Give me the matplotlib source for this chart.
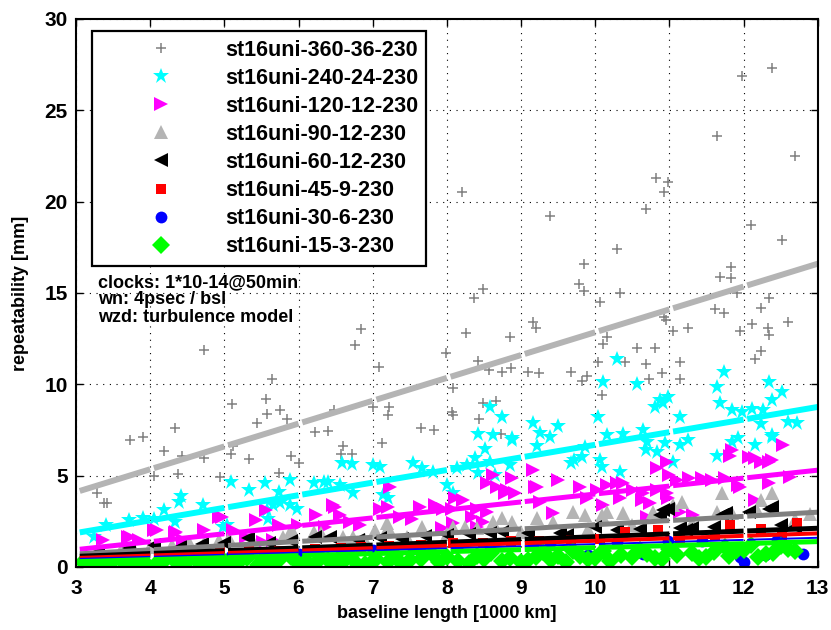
import matplotlib
matplotlib.use("agg")
import matplotlib.pyplot as plt
import numpy as np

plt.rcParams['font.family'] = ['Liberation Sans', 'DejaVu Sans']

# --- data ----------------------------------------------------------------
labels = ["st16uni-360-36-230", "st16uni-240-24-230", "st16uni-120-12-230",
          "st16uni-90-12-230", "st16uni-60-12-230", "st16uni-45-9-230",
          "st16uni-30-6-230", "st16uni-15-3-230"]

x360 = [11.98, 12.39, 11.64, 12.70, 10.82, 10.98, 10.93, 8.20, 10.68, 9.39,
        12.10, 12.52, 10.29, 9.85, 11.83, 11.68, 11.83, 9.78, 9.85, 10.34,
        10.06, 8.49, 8.36, 11.91, 12.35, 12.23, 11.62, 11.73, 10.93, 10.96,
        9.16, 11.25, 12.12, 12.33, 12.60,
        4.72, 6.76, 6.84, 7.08, 7.99, 5.64, 5.56, 8.08,
        3.28, 3.38, 3.42, 3.73, 3.90, 4.33, 4.19, 4.37, 4.43, 4.05,
        4.72, 4.94, 5.10, 5.09, 5.12, 5.33, 5.57, 5.44, 5.75, 5.84,
        5.73, 5.90, 6.00, 6.22, 6.40, 6.48, 6.60, 6.57, 6.72, 7.00,
        7.22, 7.20, 7.12, 7.65, 7.82,
        8.26, 8.85, 9.20, 8.42, 8.57, 8.74, 8.86, 9.09, 9.24, 9.68,
        9.82, 9.89, 10.16, 10.10, 10.04, 10.09, 10.40, 10.57, 10.80, 10.69,
        10.72, 10.90, 11.05, 11.14, 11.14, 11.95, 12.35, 12.15, 12.23, 8.07,
        8.08, 8.49, 8.66, 8.43, 8.73]
y360 = [26.9, 27.3, 23.6, 22.5, 21.3, 21.1, 20.5, 20.5, 19.6, 19.2,
        18.7, 17.9, 17.4, 16.6, 16.4, 15.9, 15.8, 15.5, 15.1, 15.0,
        14.5, 15.2, 14.7, 15.0, 14.7, 14.2, 14.1, 13.9, 13.7, 13.5,
        13.4, 13.1, 13.3, 13.1, 13.4,
        11.9, 12.15, 13.0, 10.95, 11.7, 10.3, 9.2, 9.8,
        4.05, 3.5, 3.5, 6.95, 7.1, 7.6, 6.35, 5.1, 6.1, 5.0,
        5.95, 4.9, 8.9, 6.2, 6.6, 5.9, 8.4, 7.9, 8.6, 8.1,
        5.15, 6.1, 5.7, 7.4, 7.45, 8.6, 6.6, 6.2, 6.2, 8.76,
        8.76, 8.3, 6.8, 7.6, 7.5,
        12.8, 12.6, 13.1, 11.3, 10.8, 10.7, 10.9, 10.7, 10.6, 10.7,
        10.2, 10.45, 12.6, 12.2, 11.2, 9.4, 11.2, 12.0, 12.0, 11.1,
        10.3, 10.6, 12.9, 11.2, 10.3, 12.9, 12.7, 11.4, 11.8, 8.5,
        8.3, 9.0, 9.1, 8.1, 7.3]

x240 = [3.24, 3.40, 3.71, 3.90, 4.05, 4.19, 4.34, 4.41, 4.39, 4.71,
        4.98, 5.09, 5.33, 5.55, 5.74, 5.88, 5.59, 5.75, 5.98, 6.21,
        6.34, 5.57, 5.65, 5.88, 5.03,
        6.40, 6.58, 6.72, 7.00, 7.10, 7.54, 7.66, 7.81, 6.73, 6.56,
        7.14, 7.20, 8.00, 8.08, 8.13, 8.27, 8.38, 8.51, 8.58, 8.85,
        8.42, 8.65, 9.21, 8.88,
        10.29, 10.10, 10.57, 10.87, 10.98, 10.91, 10.80, 10.04, 11.73, 11.64,
        11.68, 11.85, 11.98, 12.35, 12.52, 12.39, 12.12, 12.26, 12.24, 12.60,
        12.72, 12.39, 11.14, 10.16, 10.37, 10.64, 10.69, 10.83, 10.94, 11.14,
        11.25, 11.92, 11.85, 12.15, 12.38, 11.64, 10.06, 10.09, 10.33, 11.05,
        8.42, 8.62, 8.88, 8.74, 8.58, 9.16, 9.25, 9.50, 9.39, 9.68,
        9.82, 9.86, 10.70, 9.72]
y240 = [1.65, 2.3, 2.57, 2.7, 2.65, 3.1, 2.45, 3.9, 3.55, 3.4,
        2.2, 4.65, 4.2, 4.6, 4.1, 4.75, 2.6, 3.5, 3.2, 4.6,
        4.65, 3.1, 3.4, 3.4, 2.3,
        4.65, 5.7, 5.65, 5.6, 5.5, 5.7, 5.4, 5.2, 4.05, 4.5,
        3.95, 3.8, 4.5, 4.05, 5.4, 5.6, 5.95, 6.45, 5.75, 5.6,
        5.15, 5.05, 6.6, 6.95,
        11.4, 10.1, 10.0, 9.15, 9.3, 9.0, 8.75, 8.2, 10.7, 9.85,
        9.0, 8.6, 8.5, 10.1, 9.6, 9.15, 8.65, 8.6, 7.8, 7.95,
        7.9, 7.2, 8.2, 7.2, 7.3, 7.5, 6.4, 6.3, 6.8, 6.7,
        6.95, 7.05, 6.85, 6.7, 7.1, 6.1, 5.85, 5.5, 5.2, 5.75,
        7.3, 7.2, 7.05, 8.2, 8.75, 7.9, 7.35, 7.7, 7.1, 5.7,
        6.0, 6.55, 6.85, 5.85]

x120 = [3.36, 3.70, 3.73, 3.85, 4.05, 4.09, 4.35, 4.33, 4.44, 4.72,
        4.93, 4.97, 5.12, 5.29, 5.42, 5.52, 5.56, 5.65, 5.74, 5.99,
        6.23, 6.46,
        6.49, 6.56, 6.69, 6.83, 6.36, 7.23, 7.10, 7.20, 7.37, 7.53,
        7.64, 7.84, 7.95, 8.07, 8.11, 8.22, 8.34, 8.40, 8.54, 8.54,
        8.67, 8.81, 8.88, 8.62, 9.16, 9.19, 9.25, 9.43, 9.50, 8.08,
        8.40, 7.86, 7.93, 8.49, 8.78, 8.92, 9.21,
        9.79, 9.89, 10.03, 10.10, 10.29, 10.33, 10.51, 10.63, 10.74, 10.83,
        10.97, 10.97, 10.98, 10.70, 11.00, 11.10, 11.27, 11.44, 11.58, 11.75,
        11.82, 11.85, 11.92, 12.08, 12.15, 12.24, 12.35, 12.39, 12.53, 12.35,
        12.15, 11.14, 11.32, 10.83, 12.62, 11.95, 10.16, 10.37, 10.64]
y120 = [1.5, 1.65, 1.65, 1.5, 2.0, 2.0, 1.9, 1.85, 1.5, 2.0,
        2.75, 2.75, 2.0, 1.65, 2.55, 1.35, 3.1, 1.5, 2.3, 2.3,
        2.85, 3.4,
        3.3, 2.85, 2.45, 2.3, 2.2, 4.4, 3.2, 3.3, 2.75, 2.6,
        3.3, 3.4, 3.2, 3.2, 3.8, 3.65, 2.75, 3.2, 3.0, 4.6,
        4.4, 4.2, 4.85, 5.05, 5.3, 4.4, 3.55, 2.95, 4.75, 2.4,
        2.2, 3.3, 2.15, 2.45, 4.05, 4.05, 4.4,
        4.4, 3.8, 4.2, 3.4, 4.6, 3.8, 4.2, 3.65, 3.5, 4.2,
        4.05, 5.75, 3.8, 2.75, 5.05, 4.75, 4.85, 4.85, 4.75, 4.85,
        6.1, 6.4, 4.5, 6.0, 5.95, 5.75, 5.75, 5.85, 6.7, 4.6,
        3.65, 3.0, 2.85, 5.4, 4.9, 4.4, 4.5, 4.6, 4.05]

x90 = [3.3, 3.6, 4.0, 4.3, 4.52, 4.72, 4.93, 5.06, 5.79, 5.92,
       6.21, 6.30, 6.6, 6.73, 7.46, 5.88,
       7.19, 7.03, 7.66, 8.08, 8.24, 8.40, 8.62, 8.74, 8.88, 9.21,
       9.43, 7.2,
       9.70, 9.86, 10.09, 10.16, 10.37, 10.78, 11.05, 11.17, 11.64, 11.71,
       11.85, 12.24, 12.39, 12.18,
       9.0, 10.5, 12.7, 12.9, 11.3, 9.9, 8.0, 6.9, 5.4, 3.8]
y90 = [0.9, 0.95, 1.1, 1.2, 1.35, 1.3, 1.5, 1.6, 1.65, 1.9,
       1.9, 1.85, 1.65, 1.65, 1.65, 1.9,
       2.4, 2.0, 2.2, 2.2, 2.2, 2.15, 2.45, 2.7, 2.45, 2.7,
       2.45, 2.2,
       3.0, 2.85, 2.85, 3.0, 2.95, 3.0, 3.4, 3.55, 3.0, 4.05,
       2.95, 3.65, 4.05, 3.1,
       1.9, 2.3, 2.6, 2.9, 2.4, 2.1, 1.8, 1.5, 1.3, 0.9]

x60 = [3.3, 3.71, 4.05, 4.4, 4.7, 5.0, 5.32, 5.6, 5.9, 6.22,
       6.42, 6.8, 7.1, 7.4, 7.7, 8.0, 8.3, 8.58, 8.75, 9.1,
       9.52, 9.62, 10.0, 10.3, 10.6, 10.87, 10.91, 10.98, 11.14, 11.23,
       11.30, 11.6, 11.71, 11.77, 12.08, 12.35, 12.39, 12.5, 12.7]
y60 = [0.8, 1.05, 1.2, 1.1, 1.25, 1.3, 1.6, 1.3, 1.4, 1.65,
       1.65, 1.5, 1.6, 1.55, 1.7, 1.75, 1.8, 1.85, 1.9, 1.85,
       1.85, 1.75, 2.2, 2.05, 2.1, 2.85, 3.1, 3.2, 2.15, 2.0,
       2.15, 2.2, 2.85, 2.95, 3.0, 3.2, 3.3, 2.3, 2.2]

x45 = [3.28, 3.73, 4.19, 4.43, 4.94, 5.33, 5.73, 6.22, 6.57, 6.84,
       7.22, 7.65, 8.08, 8.49, 8.86, 9.24, 9.68, 10.06, 10.40, 10.85,
       11.14, 11.62, 11.82, 12.23, 12.52, 12.72]
y45 = [0.5, 0.6, 0.7, 0.75, 0.8, 0.9, 0.9, 1.0, 1.05, 1.1,
       1.15, 1.2, 1.3, 1.3, 1.4, 1.45, 1.5, 1.55, 1.9, 2.0,
       1.6, 1.7, 2.3, 2.1, 1.75, 2.4]

x30 = [3.24, 3.71, 4.19, 4.72, 5.09, 5.55, 6.00, 6.58, 7.00, 7.54,
       8.13, 8.58, 9.16, 9.39, 9.90, 10.29, 10.64, 10.98, 11.44, 11.95,
       12.00, 12.29, 12.45, 12.80]
y30 = [0.25, 0.3, 0.45, 0.5, 0.6, 0.65, 0.7, 0.9, 0.95, 1.0,
       1.1, 1.15, 1.2, 1.3, 0.65, 1.35, 0.7, 1.4, 1.45, 0.55,
       0.3, 0.65, 1.5, 0.7]

x15 = [3.1, 3.3, 3.5, 3.8, 3.95, 4.2, 4.35, 4.6, 4.75, 5.0,
       5.1, 5.3, 5.5, 5.6, 5.75, 5.9, 6.1, 6.3, 6.5, 6.7,
       6.9, 7.05, 7.3, 7.5, 7.8, 8.0, 8.15, 8.4, 8.6, 8.85,
       9.1, 9.3, 9.5, 9.7, 9.9, 10.1, 10.35, 10.6, 10.8, 11.0,
       11.3, 11.5, 11.75, 11.9, 12.1, 12.3, 12.5, 12.7,
       3.2, 3.4, 3.65, 3.9, 4.1, 4.45, 4.7, 4.9, 5.2, 5.45,
       5.7, 6.0, 6.2, 6.4, 6.6, 6.8, 7.0, 7.2, 7.4, 7.65,
       7.9, 8.3, 8.5, 8.75, 9.0, 9.2, 9.4, 9.6, 9.8, 10.0,
       10.2, 10.5, 10.7, 10.9, 11.1, 11.4, 11.6, 11.8, 12.0, 12.2,
       12.4, 12.6]
y15 = [0.3, 0.15, 0.35, 0.25, 0.15, 0.4, 0.3, 0.45, 0.25, 0.35,
       0.15, 0.5, 0.3, 0.2, 0.45, 0.55, 0.35, 0.5, 0.2, 0.6,
       0.15, 0.45, 0.65, 0.4, 0.7, 0.55, 0.35, 0.6, 0.75, 0.5,
       0.4, 0.8, 0.6, 0.85, 0.45, 0.9, 0.65, 0.95, 0.5, 1.0,
       0.75, 0.55, 1.1, 0.85, 1.2, 0.7, 1.15, 0.9,
       0.1, 0.05, 0.2, 0.05, 0.25, 0.1, 0.05, 0.2, 0.3, 0.1,
       0.25, 0.15, 0.05, 0.4, 0.3, 0.1, 0.35, 0.25, 0.15, 0.45,
       0.3, 0.2, 0.45, 0.35, 0.25, 0.55, 0.4, 0.3, 0.6, 0.5,
       0.35, 0.55, 0.7, 0.45, 0.65, 0.5, 0.8, 0.6, 0.95, 0.55,
       0.75, 1.0]

# linear fits: value at 3000 km and at 13000 km
fit_x = [3, 13]
fit_start = [4.1, 1.86, 0.95, 0.71, 0.58, 0.49, 0.44, 0.29]
fit_end = [16.6, 8.76, 5.3, 3.0, 2.12, 1.84, 1.6, 1.39]

xs = [x360, x240, x120, x90, x60, x45, x30, x15]
ys = [y360, y240, y120, y90, y60, y45, y30, y15]
markers = ['+', '*', '>', '^', '<', 's', 'o', 'D']
msizes = [7.5, 12, 10, 10, 10, 7, 8.5, 9]
colors = ['#808080', '#00ffff', '#ff00ff', '#b4b4b4', 'k', 'r', 'b', '#00ff00']
line_colors = ['#b4b4b4', '#00ffff', '#ff00ff', '#808080', 'k', 'r', 'b', '#00ff00']
line_widths = [4.3, 4.3, 3.6, 3.6, 3.6, 2.9, 1.4, 3.6]

fig = plt.figure(figsize=(8.31, 6.3), dpi=100)
ax = fig.add_axes([0.0915, 0.1, 0.8925, 0.87])

for i in range(len(labels)):
    if markers[i] == '+':
        ax.plot(xs[i], ys[i], linestyle='none', marker='+', ms=msizes[i],
                mew=1.1, color=colors[i], label=labels[i])
    else:
        ax.plot(xs[i], ys[i], linestyle='none', marker=markers[i], ms=msizes[i],
                mew=0, color=colors[i], label=labels[i])

# fit lines, drawn in pieces between whole thousands of km
for i in range(len(labels)):
    for k in range(3, 13):
        seg = np.array([k + 0.05, k + 1.0])
        ax.plot(seg, np.interp(seg, fit_x, [fit_start[i], fit_end[i]]),
                color=line_colors[i], lw=line_widths[i], solid_capstyle='butt')

ax.set_xlim(3, 13)
ax.set_ylim(0, 30)
ax.set_xticks(range(3, 14))
ax.set_yticks(range(0, 31, 5))
ax.grid(True, color='k', linestyle=(0, (1, 5)), linewidth=0.8)
ax.tick_params(direction='in', length=5, width=1, top=True, right=True,
               labelsize=15)
ax.tick_params(axis='x', pad=9)
ax.tick_params(axis='y', pad=6)
for lab in ax.get_xticklabels() + ax.get_yticklabels():
    lab.set_fontweight('bold')
for s in ax.spines.values():
    s.set_linewidth(1.5)

ax.set_xlabel("baseline length [1000 km]", fontsize=13, fontweight='bold', labelpad=5)
ax.set_ylabel("repeatability [mm]", fontsize=13, fontweight='bold', labelpad=11)

handles, labs = ax.get_legend_handles_labels()
leg = ax.legend(handles, labs, loc='upper left', bbox_to_anchor=(0.022, 0.978),
                borderaxespad=0, numpoints=1, fancybox=False, framealpha=1,
                edgecolor='k', prop={'size': 15.5, 'weight': 'bold'},
                handlelength=5.6, handletextpad=0.15, labelspacing=0.33,
                borderpad=0.4)
leg.get_frame().set_linewidth(1.6)

ax.text(0.03, 0.535, "clocks: 1*10-14@50min\nwn: 4psec / bsl\nwzd: turbulence model",
        transform=ax.transAxes, va='top', ha='left', fontsize=13,
        fontweight='bold', linespacing=1.03)

fig.savefig("out.png", dpi=100)
